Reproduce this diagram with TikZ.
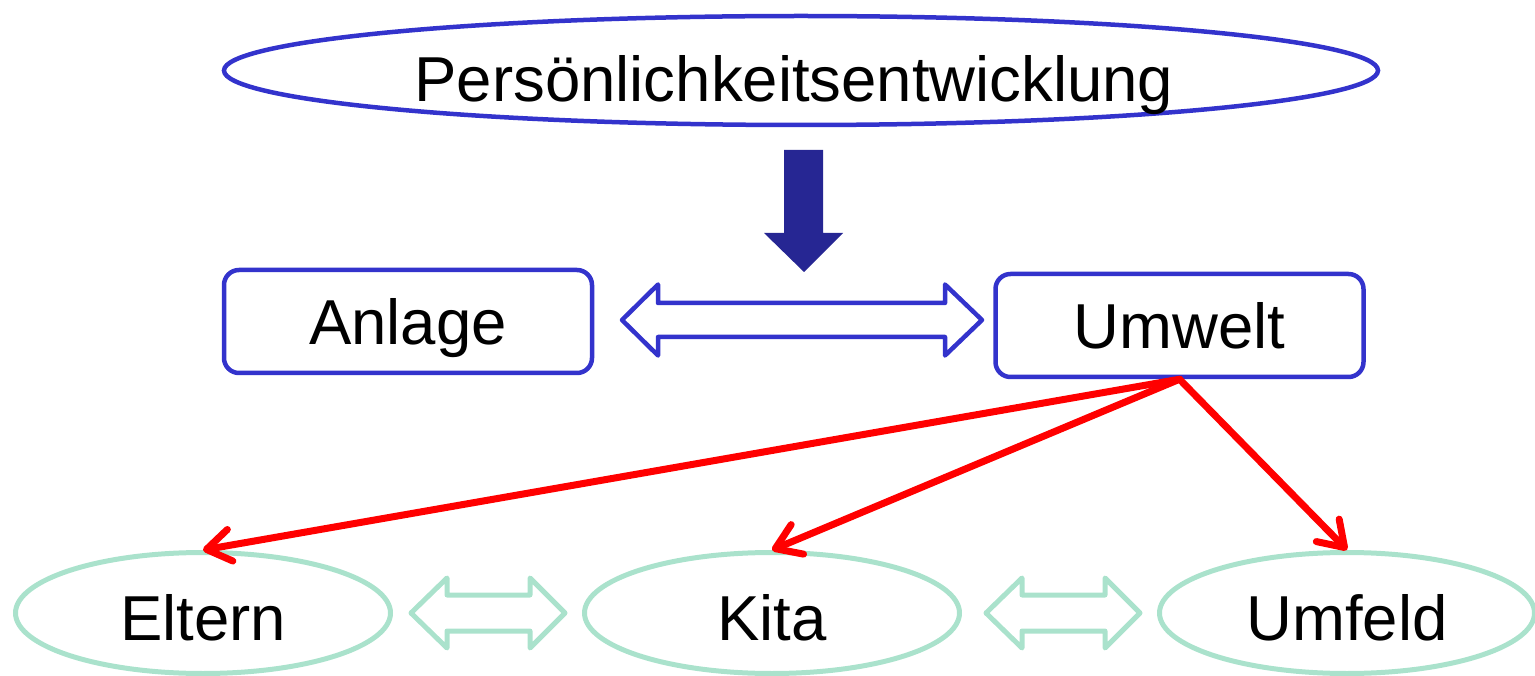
\documentclass[tikz,border=0pt]{standalone}
\usepackage{fontspec}
\setmainfont{Liberation Sans}
\usetikzlibrary{shapes.geometric,arrows.meta}
\definecolor{outblue}{RGB}{51,51,204}
\definecolor{navy}{RGB}{38,38,147}
\definecolor{mint}{RGB}{170,226,204}
\definecolor{pured}{RGB}{255,0,0}
\newcommand{\lowtext}[2]{\raisebox{-#1}[0pt][0pt]{#2}}
\tikzset{
  x=1pt, y=-1pt,
  every node/.style={font=\fontsize{63.5}{72}\selectfont, inner sep=0pt, text=black},
  topell/.style={ellipse, draw=outblue, line width=4.5pt, minimum width=1154pt, minimum height=109pt},
  bluebox/.style={rectangle, rounded corners=15pt, draw=outblue, line width=4.5pt, minimum width=368pt, minimum height=103pt},
  greenell/.style={ellipse, draw=mint, line width=5pt, minimum width=375pt, minimum height=121pt},
  redarrow/.style={draw=pured, line width=7pt, line cap=round, -{Straight Barb[length=24pt,width=32pt,round]}},
  blockarrow/.style={line width=4.5pt, line join=round},
}
\begin{document}
\begin{tikzpicture}
\useasboundingbox (0,0) rectangle (1535,676);

\node[topell] (pers) at (801,70.5) {\lowtext{31.5pt}{\hspace*{-14pt}Persönlichkeitsentwicklung}};
\node[bluebox] (anlage) at (408,321.5) {\lowtext{23.5pt}{Anlage}};
\node[bluebox] (umwelt) at (1179.5,325.5) {\lowtext{23.5pt}{Umwelt}};
\node[greenell] (eltern) at (203,613) {\lowtext{27pt}{Eltern}};
\node[greenell] (kita) at (772,613) {\lowtext{27pt}{Kita}};
\node[greenell] (umfeld) at (1347,613) {\lowtext{27pt}{Umfeld}};

% filled down arrow
\fill[navy] (784,150) -- (823,150) -- (823,233) -- (843,233) -- (804,272) -- (764,233) -- (784,233) -- cycle;

% blue double arrow between Anlage and Umwelt
\draw[blockarrow, draw=outblue] (622,320) -- (658,284.5) -- (658,303) -- (945,303) -- (945,284.5) -- (982,320)
  -- (945,355.5) -- (945,337) -- (658,337) -- (658,355.5) -- cycle;

% green double arrows
\draw[blockarrow, draw=mint, line width=5pt] (411,613) -- (447,578) -- (447,595) -- (530,595) -- (530,578) -- (565,613)
  -- (530,648) -- (530,631) -- (447,631) -- (447,648) -- cycle;
\draw[blockarrow, draw=mint, line width=5pt] (986,613) -- (1022,578) -- (1022,595) -- (1105,595) -- (1105,578) -- (1140,613)
  -- (1105,648) -- (1105,631) -- (1022,631) -- (1022,648) -- cycle;

% red arrows
\draw[redarrow] (umwelt.south) -- (eltern.north);
\draw[redarrow] (umwelt.south) -- (kita.north);
\draw[redarrow] (umwelt.south) -- (umfeld.north);
\end{tikzpicture}
\end{document}
